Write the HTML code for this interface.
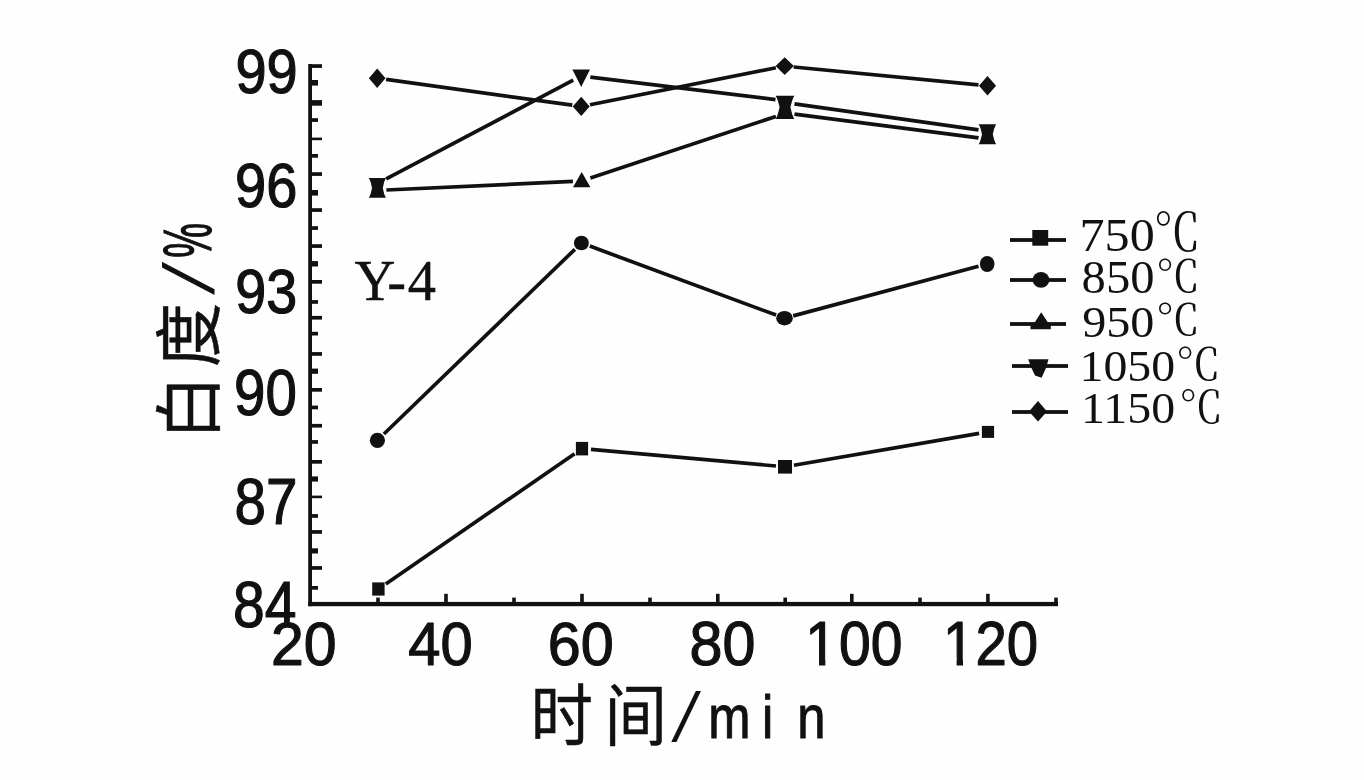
<!DOCTYPE html>
<html lang="zh-CN"><head><meta charset="utf-8">
<style>
html,body{margin:0;padding:0;background:#fefefe;}
body{width:1364px;height:780px;overflow:hidden;}
svg{display:block;}
text{fill:#111111;stroke-linejoin:round;}
.f0{font-family:"Liberation Serif", serif;font-weight:400;}
.f1{font-family:"Liberation Serif", "Noto Serif CJK SC", serif;font-weight:400;}
.f2{font-family:"Liberation Sans", sans-serif;font-weight:400;}
.f3{font-family:"Liberation Sans", "Noto Sans CJK SC", sans-serif;font-weight:400;}

.ln{stroke:#111111;fill:none;stroke-linecap:butt;}
.mk{fill:#111111;stroke:none;}
</style></head><body>
<svg width="1364" height="780" viewBox="0 0 1364 780">
<rect width="1364" height="780" fill="#fefefe"/>
<g class="mk" id="axes">
<rect x="308.2" y="64" width="3.8" height="542.2"/>
<rect x="308.2" y="601.9" width="749.8" height="4.3"/>
<rect x="310" y="64.2" width="12.0" height="3.7"/>
<rect x="310" y="80.0" width="8.0" height="5.6"/>
<rect x="310" y="100.1" width="12.0" height="5.6"/>
<rect x="310" y="118.2" width="8.0" height="3.7"/>
<rect x="310" y="137.6" width="12.0" height="2.6"/>
<rect x="310" y="154.0" width="8.0" height="3.7"/>
<rect x="310" y="172.2" width="12.0" height="3.7"/>
<rect x="310" y="190.0" width="8.0" height="5.6"/>
<rect x="310" y="208.2" width="12.0" height="3.7"/>
<rect x="310" y="226.2" width="8.0" height="3.7"/>
<rect x="310" y="244.2" width="12.0" height="3.7"/>
<rect x="310" y="261.1" width="8.0" height="5.4"/>
<rect x="310" y="280.0" width="12.0" height="3.7"/>
<rect x="310" y="300.1" width="8.0" height="3.7"/>
<rect x="310" y="315.9" width="12.0" height="3.7"/>
<rect x="310" y="331.8" width="8.0" height="3.7"/>
<rect x="310" y="352.1" width="12.0" height="3.7"/>
<rect x="310" y="368.6" width="8.0" height="5.2"/>
<rect x="310" y="388.0" width="12.0" height="3.7"/>
<rect x="310" y="405.6" width="8.0" height="3.7"/>
<rect x="310" y="423.9" width="12.0" height="3.7"/>
<rect x="310" y="440.1" width="8.0" height="3.7"/>
<rect x="310" y="460.0" width="12.0" height="3.7"/>
<rect x="310" y="476.4" width="8.0" height="5.2"/>
<rect x="310" y="495.6" width="12.0" height="2.6"/>
<rect x="310" y="514.1" width="8.0" height="3.7"/>
<rect x="310" y="530.1" width="12.0" height="3.7"/>
<rect x="310" y="548.3" width="8.0" height="5.2"/>
<rect x="310" y="566.1" width="12.0" height="3.7"/>
<rect x="310" y="586.0" width="8.0" height="3.7"/>
<rect x="376.2" y="597.6" width="3.6" height="6.4"/>
<rect x="444.2" y="593.8" width="3.6" height="10.2"/>
<rect x="512.2" y="597.6" width="3.6" height="6.4"/>
<rect x="580.2" y="593.8" width="3.6" height="10.2"/>
<rect x="648.2" y="597.6" width="3.6" height="6.4"/>
<rect x="716.0" y="593.8" width="3.6" height="10.2"/>
<rect x="783.4" y="597.6" width="3.6" height="6.4"/>
<rect x="850.0" y="593.8" width="3.6" height="10.2"/>
<rect x="918.2" y="597.6" width="3.6" height="6.4"/>
<rect x="986.1" y="593.8" width="3.6" height="10.2"/>
<rect x="1054.2" y="597.6" width="3.6" height="6.4"/>
</g>
<g class="ln" id="lines">
<line x1="385.8" y1="583.9" x2="574.6" y2="453.7" stroke-width="3.7"/>
<line x1="591.0" y1="449.4" x2="776.0" y2="466.0" stroke-width="3.7"/>
<line x1="793.9" y1="465.3" x2="979.1" y2="433.4" stroke-width="3.7"/>
<line x1="383.9" y1="434.0" x2="574.9" y2="249.3" stroke-width="3.7"/>
<line x1="589.8" y1="246.1" x2="776.1" y2="315.1" stroke-width="3.7"/>
<line x1="793.2" y1="315.9" x2="978.5" y2="266.3" stroke-width="3.7"/>
<line x1="386.1" y1="79.4" x2="572.3" y2="105.2" stroke-width="3.7"/>
<line x1="590.0" y1="104.7" x2="775.9" y2="67.8" stroke-width="3.7"/>
<line x1="793.7" y1="67.0" x2="978.5" y2="84.9" stroke-width="3.7"/>
<line x1="386.4" y1="190.0" x2="572.9" y2="181.4" stroke-width="3.7"/>
<line x1="590.4" y1="178.1" x2="775.9" y2="116.4" stroke-width="3.7"/>
<line x1="794.5" y1="114.2" x2="978.5" y2="137.9" stroke-width="3.7"/>
<line x1="386.2" y1="178.9" x2="573.2" y2="80.2" stroke-width="3.7"/>
<line x1="590.3" y1="77.1" x2="775.5" y2="99.6" stroke-width="3.7"/>
<line x1="794.5" y1="103.9" x2="978.5" y2="129.9" stroke-width="3.7"/>
</g>
<g class="mk" id="markers">
<rect x="372.2" y="582.4" width="12.4" height="13.2"/>
<rect x="575.9" y="441.9" width="12.2" height="13.5"/>
<rect x="778.0" y="460.0" width="14" height="13.6"/>
<rect x="981.9" y="425.9" width="12.2" height="12"/>
<ellipse cx="377.4" cy="440.3" rx="7.6" ry="7.6"/>
<ellipse cx="581.4" cy="243.0" rx="7.5" ry="7.3"/>
<ellipse cx="784.5" cy="318.2" rx="8.3" ry="7.2"/>
<ellipse cx="987.2" cy="264.0" rx="7.3" ry="8.0"/>
<polygon points="377.4,182.3 386.0,197.7 368.8,197.7"/>
<polygon points="581.7,172.0 590.4,187.3 573.0,187.3"/>
<polygon points="785.0,102.8 794.4,118.9 775.6,118.9"/>
<polygon points="987.4,128.4 996.2,144.3 978.6,144.3"/>
<polygon points="368.8,178.1 386.0,178.1 377.4,194.0"/>
<polygon points="572.4,69.5 590.0,69.5 581.2,86.9"/>
<polygon points="775.6,95.7 794.4,95.7 785.0,112.4"/>
<polygon points="978.6,124.2 996.2,124.2 987.4,140.3"/>
<polygon points="370.0,179.1 384.8,179.1 382.8,187.9 384.8,196.7 370.0,196.7 372.0,187.9"/>
<polygon points="776.8,96.7 793.2,96.7 790.4,107.3 793.2,117.9 776.8,117.9 779.6,107.3"/>
<polygon points="979.8,125.2 995.0,125.2 992.8,134.2 995.0,143.3 979.8,143.3 982.0,134.2"/>
<polygon points="377.2,68.5 385.5,78.2 377.2,87.9 368.9,78.2"/>
<polygon points="581.2,96.8 589.7,106.4 581.2,116.0 572.7,106.4"/>
<polygon points="784.7,57.3 793.8,66.1 784.7,74.9 775.6,66.1"/>
<polygon points="987.5,76.1 996.0,85.8 987.5,95.5 979.0,85.8"/>
</g>
<g id="legend">
<g class="mk">
<rect x="1010" y="238.1" width="56" height="3.8"/>
<rect x="1010" y="278.1" width="56" height="3.8"/>
<rect x="1010" y="322.1" width="56" height="3.8"/>
<rect x="1012" y="364.1" width="56" height="3.8"/>
<rect x="1012" y="410.1" width="56" height="3.8"/>
<rect x="1032.3" y="230" width="15.9" height="15.7"/>
<ellipse cx="1041" cy="279.9" rx="8.3" ry="7.9"/>
<polygon points="1041.2,312.3 1047.6,322 1050.8,325 1050.8,329.2 1030.5,329.2 1030.5,325 1035,322"/>
<polygon points="1028.2,359.2 1048.5,359.2 1046.2,367.5 1041.6,377.7 1035,375.6 1031.2,367.5"/>
<polygon points="1038,401 1047,411.4 1038,421.5 1029,411.4"/>
</g>
<text><tspan class="f0" x="1079.6" y="250.5" font-size="46.27" textLength="75.1" lengthAdjust="spacingAndGlyphs">750</tspan><tspan class="f1" x="1153.5" y="250.8" font-size="52.04" textLength="47.1" lengthAdjust="spacingAndGlyphs">℃</tspan></text>
<text><tspan class="f0" x="1081.6" y="293.2" font-size="46.06" textLength="72.9" lengthAdjust="spacingAndGlyphs">850</tspan><tspan class="f1" x="1155.8" y="292.3" font-size="43.43" textLength="44.4" lengthAdjust="spacingAndGlyphs">℃</tspan></text>
<text><tspan class="f0" x="1082.2" y="336.5" font-size="44.34" textLength="72.2" lengthAdjust="spacingAndGlyphs">950</tspan><tspan class="f1" x="1155.7" y="335.3" font-size="42.33" textLength="44.3" lengthAdjust="spacingAndGlyphs">℃</tspan></text>
<text><tspan class="f0" x="1079.5" y="380.7" font-size="45.12" textLength="95.6" lengthAdjust="spacingAndGlyphs">1050</tspan><tspan class="f1" x="1175.8" y="380.3" font-size="43.43" textLength="45.0" lengthAdjust="spacingAndGlyphs">℃</tspan></text>
<text><tspan class="f0" x="1081.1" y="423.4" font-size="44.54" textLength="94.0" lengthAdjust="spacingAndGlyphs">1150</tspan><tspan class="f1" x="1178.9" y="423.2" font-size="44.00" textLength="44.1" lengthAdjust="spacingAndGlyphs">℃</tspan></text>
</g>
<g id="ylabels">
<text class="f2" x="235.5" y="92.8" font-size="63.31" textLength="62.2" lengthAdjust="spacingAndGlyphs" stroke="#111111" stroke-width="1.2">99</text>
<text class="f2" x="235.1" y="207.0" font-size="62.59" textLength="62.3" lengthAdjust="spacingAndGlyphs" stroke="#111111" stroke-width="1.2">96</text>
<text class="f2" x="235.2" y="313.2" font-size="62.16" textLength="61.9" lengthAdjust="spacingAndGlyphs" stroke="#111111" stroke-width="1.2">93</text>
<text class="f2" x="234.1" y="415.2" font-size="64.02" textLength="62.8" lengthAdjust="spacingAndGlyphs" stroke="#111111" stroke-width="1.2">90</text>
<text class="f2" x="234.6" y="523.5" font-size="65.24" textLength="62.9" lengthAdjust="spacingAndGlyphs" stroke="#111111" stroke-width="1.2">87</text>
<text class="f2" x="233.1" y="627.1" font-size="64.73" textLength="63.4" lengthAdjust="spacingAndGlyphs" stroke="#111111" stroke-width="1.2">84</text>
</g>
<g id="xlabels">
<text class="f2" x="270.9" y="664.8" font-size="61.88" textLength="65.6" lengthAdjust="spacingAndGlyphs" stroke="#111111" stroke-width="1.2">20</text>
<text class="f2" x="408.3" y="664.8" font-size="61.88" textLength="64.4" lengthAdjust="spacingAndGlyphs" stroke="#111111" stroke-width="1.2">40</text>
<text class="f2" x="547.8" y="664.8" font-size="61.88" textLength="66.0" lengthAdjust="spacingAndGlyphs" stroke="#111111" stroke-width="1.2">60</text>
<text class="f2" x="689.6" y="664.8" font-size="62.59" textLength="65.9" lengthAdjust="spacingAndGlyphs" stroke="#111111" stroke-width="1.2">80</text>
<text class="f2" x="807.5" y="664.8" font-size="62.59" textLength="97.1" lengthAdjust="spacingAndGlyphs" dx="-2.19 2.19 0.00" stroke="#111111" stroke-width="1.2">100</text>
<text class="f2" x="944.2" y="664.8" font-size="62.59" textLength="95.2" lengthAdjust="spacingAndGlyphs" dx="-1.25 1.25 0.00" stroke="#111111" stroke-width="1.2">120</text>
</g>
<g fill="#fefefe"><rect x="808" y="658.6" width="11" height="8"/><rect x="825.35" y="658.6" width="10.65" height="8"/><rect x="945.5" y="658.6" width="11.1" height="8"/><rect x="963" y="658.6" width="11.5" height="8"/></g>
<text class="f0" x="354.4" y="299.9" font-size="56.70" textLength="81.6" lengthAdjust="spacingAndGlyphs" dx="0.00 -1.70 1.70" stroke="#111111" stroke-width="0.4">Y-4</text>
<text><tspan class="f3" x="530.5" y="740.2" font-size="67.00" textLength="148.2" lengthAdjust="spacingAndGlyphs" letter-spacing="12.46" stroke="#111111" stroke-width="0.5">时间</tspan><tspan class="f0" x="671.3" y="740.7" font-size="76.93" textLength="29.7" lengthAdjust="spacingAndGlyphs">/</tspan><tspan class="f2" x="708.2" y="738.2" font-size="60.41" textLength="135.0" lengthAdjust="spacingAndGlyphs" letter-spacing="21.14" dx="0.00 -7.25 7.25" stroke="#111111" stroke-width="1.0">min</tspan></text>
<text transform="rotate(-90)"><tspan class="f3" x="-440.1" y="213.5" font-size="67.73" textLength="145.7" lengthAdjust="spacingAndGlyphs" letter-spacing="8.80" stroke="#111111" stroke-width="0.5">白度</tspan><tspan class="f0" x="-295.0" y="213.2" font-size="77.64" textLength="33.3" lengthAdjust="spacingAndGlyphs">/</tspan><tspan class="f2" x="-257.8" y="211.0" font-size="68.26" textLength="34.9" lengthAdjust="spacingAndGlyphs" stroke="#111111" stroke-width="1.2">%</tspan></text>
</svg>
</body></html>
